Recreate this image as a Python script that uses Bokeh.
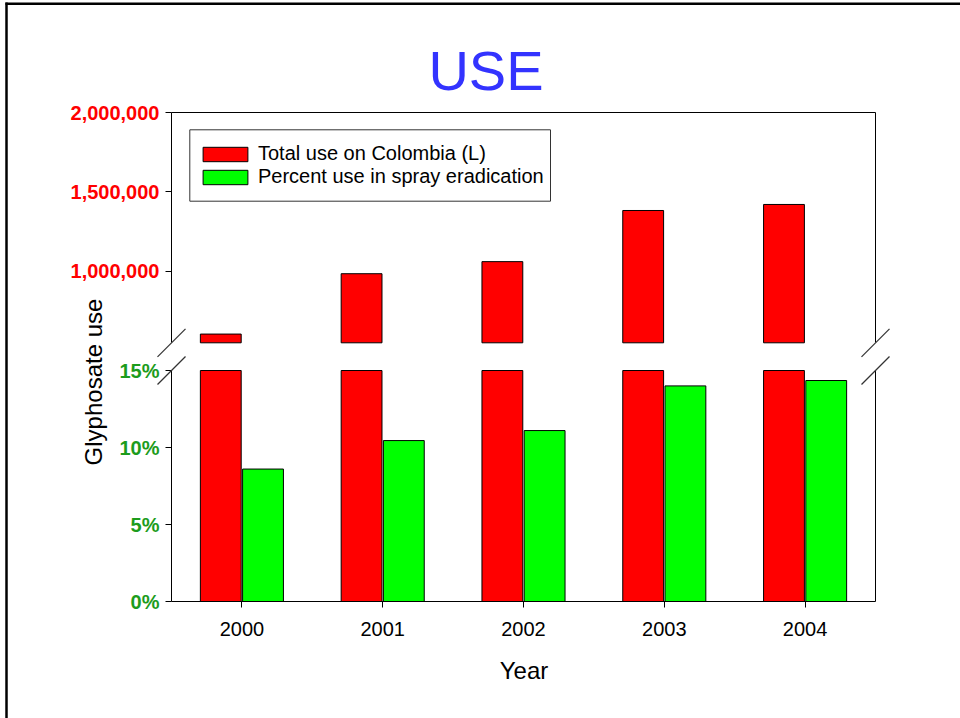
import math
from bokeh.plotting import figure
from bokeh.models import (Range1d, LinearAxis, FixedTicker, Label, Legend, LegendItem, BoxAnnotation,
                          Arrow, NumeralTickFormatter, PrintfTickFormatter, ColumnDataSource)
from bokeh.transform import dodge
from bokeh.embed import file_html
from bokeh.resources import INLINE

# ---------------- data ----------------
years = ["2000", "2001", "2002", "2003", "2004"]
total_use_l = [605000, 985000, 1061000, 1383000, 1421000]      # upper panel (litres)
percent_spray = [8.6, 10.45, 11.1, 14.0, 14.35]                 # lower panel (%)

upper_ticks = [1000000, 1500000, 2000000]
lower_ticks = [0, 5, 10, 15]
upper_min, upper_max = 550000, 2000000
lower_min, lower_max = 0, 15

# ---------------- geometry (canvas pixels) ----------------
W, H = 960, 718
AX_L, AX_R = 171, 875          # left / right axis lines
UP_T, UP_B = 112, 342.3        # upper panel top / bottom
LO_T, LO_B = 370, 601          # lower panel top / bottom
x_lo, x_hi = -0.5, len(years) - 0.5
px_per_x = (AX_R - AX_L) / (x_hi - x_lo)


def px2x(px):
    return x_lo + (px - AX_L) / px_per_x


def py2u(py):
    return upper_max - (py - UP_T) * (upper_max - upper_min) / (UP_B - UP_T)


def py2p(py):
    return lower_min + (LO_B - py) * (lower_max - lower_min) / (LO_B - LO_T)


FONT = "Liberation Sans"
RED = "#ff0000"
GREEN = "#00ff00"
RED_TXT = "#ff0000"
GREEN_TXT = "#1c9c1c"

p = figure(width=W, height=H, min_border=0, title=None,
           x_range=Range1d(px2x(0), px2x(W)), y_range=Range1d(py2u(H), py2u(0)),
           x_axis_type=None, y_axis_type=None,
           outline_line_color=None, output_backend="svg", toolbar_location=None,
           background_fill_color="white", border_fill_color="white")
p.extra_y_ranges = {"pct": Range1d(py2p(H), py2p(0))}

src = ColumnDataSource(dict(x=list(range(len(years))), total=total_use_l, pct=percent_spray))

r_red_u = p.vbar(x=dodge("x", -0.15, range=p.x_range), top="total", bottom=upper_min, width=0.29,
                 source=src, fill_color=RED, line_color="black", line_width=1)
r_red_l = p.vbar(x=dodge("x", -0.15, range=p.x_range), top=lower_max, bottom=lower_min, width=0.29,
                 source=src, fill_color=RED, line_color="black", line_width=1, y_range_name="pct")
r_green = p.vbar(x=dodge("x", 0.15, range=p.x_range), top="pct", bottom=lower_min, width=0.29,
                 source=src, fill_color=GREEN, line_color="black", line_width=1, y_range_name="pct")


def style_y(ax, color):
    ax.axis_line_color = "black"
    ax.axis_line_width = 1
    ax.major_tick_out = 6
    ax.major_tick_in = 0
    ax.major_tick_line_color = "black"
    ax.minor_tick_line_color = None
    ax.major_label_text_font = FONT
    ax.major_label_text_font_size = "20px"
    ax.major_label_text_font_style = "bold"
    ax.major_label_text_color = color
    ax.major_label_standoff = 6


ax_u = LinearAxis(ticker=FixedTicker(ticks=upper_ticks), formatter=NumeralTickFormatter(format="0,0"),
                  bounds=(upper_min, upper_max), fixed_location=x_lo)
style_y(ax_u, RED_TXT)
ax_l = LinearAxis(y_range_name="pct", ticker=FixedTicker(ticks=lower_ticks),
                  formatter=PrintfTickFormatter(format="%d%%"),
                  bounds=(lower_min, lower_max), fixed_location=x_lo)
style_y(ax_l, GREEN_TXT)
p.add_layout(ax_u, "left")
p.add_layout(ax_l, "left")

for rng_name, bnds in (("default", (upper_min, upper_max)), ("pct", (lower_min, lower_max))):
    ax = LinearAxis(y_range_name=rng_name, ticker=FixedTicker(ticks=[]), bounds=bnds,
                    fixed_location=x_hi, axis_line_color="black", major_tick_line_color=None,
                    minor_tick_line_color=None)
    p.add_layout(ax, "right")

top_ax = LinearAxis(ticker=FixedTicker(ticks=[]), bounds=(x_lo, x_hi), fixed_location=upper_max,
                    axis_line_color="black", major_tick_line_color=None, minor_tick_line_color=None)
p.add_layout(top_ax, "above")

xax = LinearAxis(y_range_name="pct", fixed_location=lower_min, bounds=(x_lo, x_hi),
                 ticker=FixedTicker(ticks=list(range(len(years)))),
                 major_label_overrides={i: y for i, y in enumerate(years)})
xax.axis_line_color = "black"
xax.major_tick_out = 6
xax.major_tick_in = 0
xax.minor_tick_line_color = None
xax.major_label_text_font = FONT
xax.major_label_text_font_size = "20px"
xax.major_label_text_color = "black"
xax.major_label_standoff = 14
p.add_layout(xax, "below")

# break marks
for ax_px in (AX_L, AX_R):
    for c in (UP_B, LO_T):
        p.add_layout(Arrow(end=None, x_start=px2x(ax_px - 14), y_start=py2u(c + 14),
                           x_end=px2x(ax_px + 14), y_end=py2u(c - 14),
                           line_color="#333333", line_width=1.2))

# slide frame lines (top and left)
p.add_layout(Arrow(end=None, x_start=px2x(6), y_start=py2u(2), x_end=px2x(6), y_end=py2u(H),
                   line_color="black", line_width=2.5))
p.add_layout(Arrow(end=None, x_start=px2x(5), y_start=py2u(3.3), x_end=px2x(W), y_end=py2u(3.3),
                   line_color="black", line_width=2.5))

# texts
p.add_layout(Label(x=px2x(485.5), y=py2u(70), text="USE", text_align="center",
                   text_baseline="alphabetic", text_font=FONT, text_font_size="56px",
                   text_color="#3333ff"))
p.add_layout(Label(x=px2x(93), y=py2u(381.5), text="Glyphosate use", angle=math.pi / 2,
                   text_align="center", text_baseline="middle", text_font=FONT,
                   text_font_size="24px", text_color="black"))
p.add_layout(Label(x=px2x(523.5), y=py2u(669.5), text="Year", text_align="center",
                   text_baseline="alphabetic", text_font=FONT, text_font_size="24px",
                   text_color="black"))

# legend frame + legend
p.add_layout(BoxAnnotation(left=px2x(189.3), right=px2x(550), top=py2u(129.3), bottom=py2u(200.7),
                           fill_color="white", fill_alpha=1, line_color="#333333", line_width=1,
                           line_alpha=1))
legend = Legend(items=[LegendItem(label="Total use on Colombia (L)", renderers=[r_red_u]),
                       LegendItem(label="Percent use in spray eradication", renderers=[r_green])],
                location=(197, H - 188), glyph_width=56, glyph_height=18, label_standoff=5,
                label_text_font=FONT, label_text_font_size="20px", label_text_color="black",
                label_height=23, spacing=0, padding=8, margin=0,
                border_line_color=None, background_fill_alpha=0)
p.add_layout(legend)

open("out.html", "w").write(file_html(p, INLINE, title="USE"))
